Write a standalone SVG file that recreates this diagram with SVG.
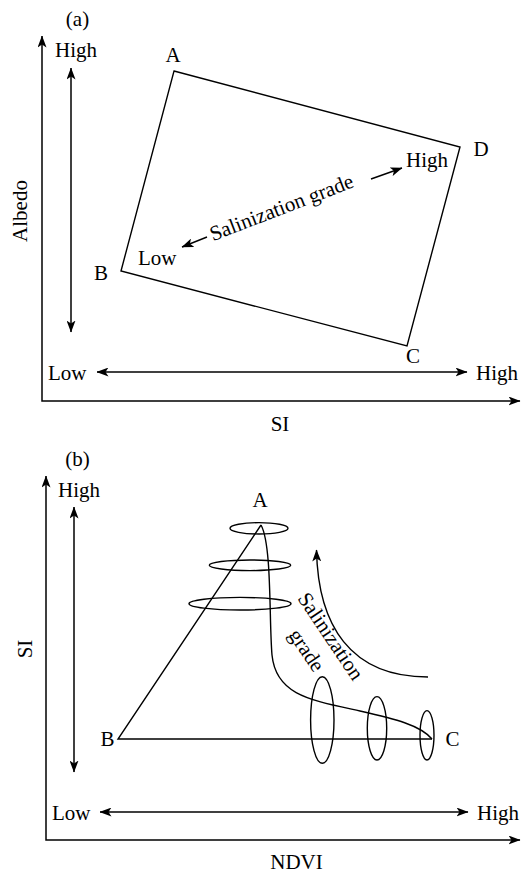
<svg xmlns="http://www.w3.org/2000/svg" width="522" height="874" viewBox="0 0 522 874" font-family="'Liberation Serif','Times New Roman',serif">
<style>
text{font-family:"Liberation Serif","Times New Roman",serif;font-size:21px;fill:#000}
.ln{fill:none;stroke:#000;stroke-width:1.4}
.ax{fill:none;stroke:#000;stroke-width:1.5;marker-start:url(#ah);marker-end:url(#ah)}
.ar{fill:none;stroke:#000;stroke-width:1.4;marker-end:url(#ah)}
.m{text-anchor:middle}
</style>
<defs>
<marker id="ah" viewBox="0 0 12 9" refX="11.5" refY="4.5" markerWidth="12" markerHeight="9" markerUnits="userSpaceOnUse" orient="auto-start-reverse">
<path d="M0,0 L12,4.5 L0,9 L3,4.5 z" fill="#000"/>
</marker>
</defs>

<g id="panel-a">
  <text x="77.5" y="26" class="m">(a)</text>
  <g id="a-axes">
    <polyline class="ax" points="42,36 42,401 520,401"/>
    <line class="ax" x1="71" y1="68" x2="71" y2="332"/>
    <line class="ax" x1="97" y1="372" x2="467" y2="372"/>
    <text x="55" y="57">High</text>
    <text x="48" y="380">Low</text>
    <text x="476" y="380">High</text>
    <text x="280" y="431" class="m">SI</text>
    <text transform="translate(27,211) rotate(-90)" class="m">Albedo</text>
  </g>
  <g id="a-quad">
    <polygon class="ln" points="174,71 460,147 407,346 121,271"/>
    <text x="173" y="62" class="m">A</text>
    <text x="101" y="280" class="m">B</text>
    <text x="413" y="363" class="m">C</text>
    <text x="481" y="156" class="m">D</text>
  </g>
  <g id="a-grade">
    <text x="406" y="167">High</text>
    <text x="138" y="265">Low</text>
    <line class="ar" x1="207" y1="237" x2="182" y2="247"/>
    <line class="ar" x1="371" y1="179" x2="402" y2="168"/>
    <text transform="translate(284,214) rotate(-21)" class="m">Salinization grade</text>
  </g>
</g>

<g id="panel-b">
  <text x="77.5" y="466" class="m">(b)</text>
  <g id="b-axes">
    <polyline class="ax" points="46,476 46,840 520,840"/>
    <line class="ax" x1="74" y1="507" x2="74" y2="772"/>
    <line class="ax" x1="100" y1="812" x2="468" y2="812"/>
    <text x="58" y="497">High</text>
    <text x="52" y="820">Low</text>
    <text x="477" y="820">High</text>
    <text x="296.5" y="869" class="m">NDVI</text>
    <text transform="translate(32,649) rotate(-90)" class="m">SI</text>
  </g>
  <g id="b-triangle">
    <polyline class="ln" points="261,525 118,739 432,739"/>
    <path class="ln" d="M261,525 C272,545 269,620 272,655 C276,695 310,700 360,711 C395,719 420,725 432,739"/>
    <text x="260" y="507" class="m">A</text>
    <text x="107.5" y="746" class="m">B</text>
    <text x="452.5" y="746" class="m">C</text>
  </g>
  <g id="b-ellipses">
    <ellipse class="ln" cx="259" cy="528.3" rx="29" ry="5.7"/>
    <ellipse class="ln" cx="250" cy="565.3" rx="40.7" ry="5.3"/>
    <ellipse class="ln" cx="240" cy="603.7" rx="51" ry="6.3"/>
    <ellipse class="ln" cx="322.3" cy="720" rx="11.7" ry="43.3"/>
    <ellipse class="ln" cx="377" cy="728.3" rx="9.7" ry="31.7"/>
    <ellipse class="ln" cx="427" cy="735.3" rx="7" ry="24.7"/>
  </g>
  <g id="b-grade">
    <path class="ar" d="M428,677 C350,677 318,625 316.5,550"/>
    <text transform="translate(325,640) rotate(56)" class="m">Salinization</text>
    <text transform="translate(301,654) rotate(56)" class="m">grade</text>
  </g>
</g>
</svg>
